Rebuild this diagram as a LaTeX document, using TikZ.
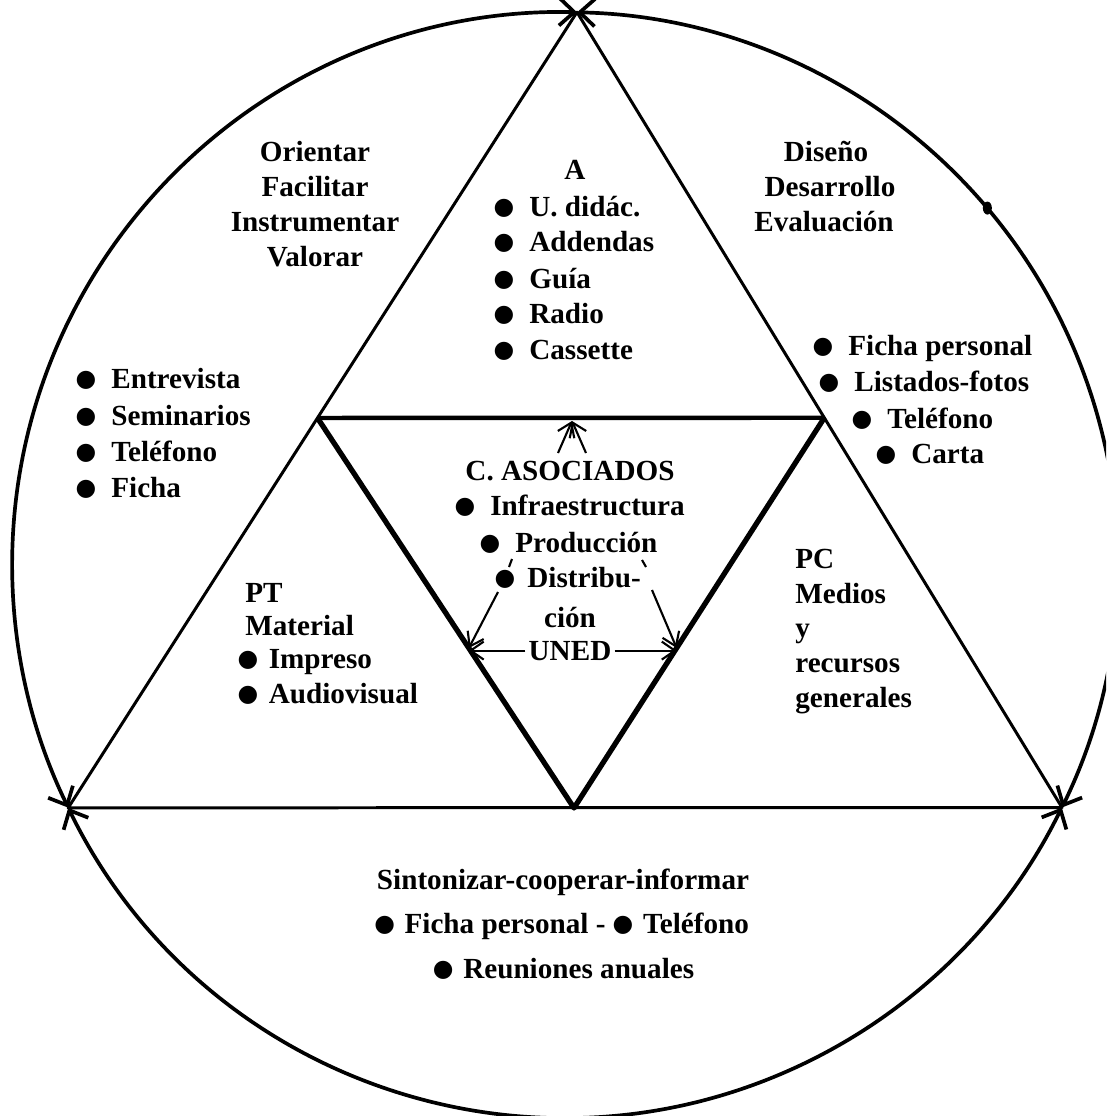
\documentclass[tikz,border=0pt]{standalone}
\usepackage{fontspec}
\setmainfont{Liberation Serif}
\newfontfamily\symf{DejaVu Sans}
\usetikzlibrary{arrows.meta,calc}
\newcommand{\bul}[1][0.36cm]{\makebox[0.3cm]{\raisebox{0.03cm}{\symf\fontsize{13.5}{14}\selectfont ●}}\hspace{#1}}
\tikzset{
  txt/.style={font=\bfseries\fontsize{16.6}{19}\selectfont, inner sep=0pt},
  ctr/.style={txt, anchor=base},
  item/.style={txt, anchor=base west},
  circ/.style={line width=2.1pt, {Straight Barb[length=3mm,width=5.5mm]}-{Straight Barb[length=3mm,width=5.5mm]}},
  side/.style={line width=1.7pt},
  thick side/.style={line width=3pt},
  arr/.style={line width=1.2pt, -{Straight Barb[length=2.6mm,width=3.6mm]}}
}
\begin{document}
\begin{tikzpicture}[x=0.02cm,y=0.02cm]
\useasboundingbox (0,0) rectangle (1106,-1116);
\clip (0,0) rectangle (1106,-1116);
% circle and vertices
\coordinate (O) at (565,-565);
\coordinate (T) at ($(O)+(88.76:553)$);
\coordinate (BL) at ($(O)+(206.05:553)$);
\coordinate (BR) at ($(O)+(333.99:553)$);
\draw[circ] (T) arc[start angle=88.76, end angle=206.05, radius=11.06cm];
\draw[circ] (BL) arc[start angle=206.05, end angle=333.99, radius=11.06cm];
\draw[circ] (BR) arc[start angle=333.99, end angle=448.76, radius=11.06cm];
\fill ($(O)+(40.2:553)$) ellipse (0.09cm and 0.13cm);
% outer triangle
\draw[side, line join=round] (T) -- (BL) -- (BR) -- cycle;
% inner triangle
\coordinate (ML) at ($(T)!0.51!(BL)$);
\coordinate (MR) at ($(T)!0.51!(BR)$);
\coordinate (MB) at (574,-808);
\draw[line width=2.5pt] (ML) -- (MR);
\draw[thick side, line join=round] (ML) -- (MB) -- (MR);
% top-left texts
\node[ctr] (o1) at (315,-161) {Orientar};
\node[ctr] (o2) at (315,-196) {Facilitar};
\node[ctr] (o3) at (315,-231) {Instrumentar};
\node[ctr] (o4) at (315,-266) {Valorar};
% top-right texts
\node[ctr] (d1) at (826,-161) {Diseño};
\node[ctr] (d2) at (830,-196) {Desarrollo};
\node[ctr] (d3) at (824,-231) {Evaluación};
% A
\node[ctr] (a0) at (575,-179) {A};
\node[item] (a1) at (496,-216) {\bul U. didác.};
\node[item] (a2) at (496,-251) {\bul Addendas};
\node[item] (a3) at (496,-288) {\bul Guía};
\node[item] (a4) at (496,-323) {\bul Radio};
\node[item] (a5) at (496,-359) {\bul Cassette};
% left list
\node[item] (l1) at (78,-388) {\bul Entrevista};
\node[item] (l2) at (78,-425) {\bul Seminarios};
\node[item] (l3) at (78,-461) {\bul Teléfono};
\node[item] (l4) at (78,-497) {\bul Ficha};
% right list
\node[item] (r1) at (815,-355) {\bul Ficha personal};
\node[item] (r2) at (821,-391) {\bul Listados-fotos};
\node[item] (r3) at (854,-428) {\bul Teléfono};
\node[item] (r4) at (878,-463) {\bul Carta};
% centre
\node[ctr] (c0) at (570,-480) {C. ASOCIADOS};
\node[item] (c1) at (457,-515) {\bul Infraestructura};
\node[item] (c2) at (482,-552) {\bul Producción};
\node[item] (c3) at (497,-587) {\bul[0.3cm]Distribu-};
\node[ctr] (c4) at (570,-627) {ción};
\node[ctr] (uned) at (570,-660) {UNED};
% PT
\node[item] (p1) at (245,-602) {PT};
\node[item] (p2) at (245,-635) {Material};
\node[item] (p3) at (240,-668) {\bul[0.27cm]Impreso};
\node[item] (p4) at (240,-703) {\bul[0.27cm]Audiovisual};
% PC
\node[item] (q1) at (795,-568) {PC};
\node[item] (q2) at (795,-603) {Medios};
\node[item] (q3) at (795,-637) {y};
\node[item] (q4) at (795,-672) {recursos};
\node[item] (q5) at (795,-707) {generales};
% bottom
\node[ctr] (b1) at (563,-889) {Sintonizar-cooperar-informar};
\node[ctr] (b2) at (563,-933) {\bul[0.25cm]Ficha personal -\hspace{0.2cm}\bul[0.25cm]Teléfono};
\node[ctr] (b3) at (565,-978) {\bul[0.25cm]Reuniones anuales};
% centre arrows
\coordinate (top) at (572,-421);
\coordinate (ua) at (558,-453);
\coordinate (ub) at (586,-453);
\draw[arr] (ua) -- (top);
\draw[arr] (ub) -- (top);
\coordinate (iL) at ($(ML)!0.59!(MB)$);
\coordinate (iR) at ($(MR)!0.59!(MB)$);
\draw[arr] (uned.west) ++(-3,0) coordinate (uw) (uw) -- (iL |- uw);
\draw[arr] (uned.east) ++(3,0) coordinate (ue) (ue) -- (iR |- ue);
\coordinate (dl1) at (512,-559);
\coordinate (dl2) at (509,-567);
\coordinate (dl3) at (498,-592);
\draw[line width=1.2pt] (dl1) -- (dl2);
\draw[arr] (dl3) -- (iL);
\coordinate (dr1) at (642,-560);
\coordinate (dr2) at (646,-567);
\coordinate (dr3) at (652,-590);
\draw[line width=1.2pt] (dr1) -- (dr2);
\draw[arr] (dr3) -- (iR);
\end{tikzpicture}
\end{document}
